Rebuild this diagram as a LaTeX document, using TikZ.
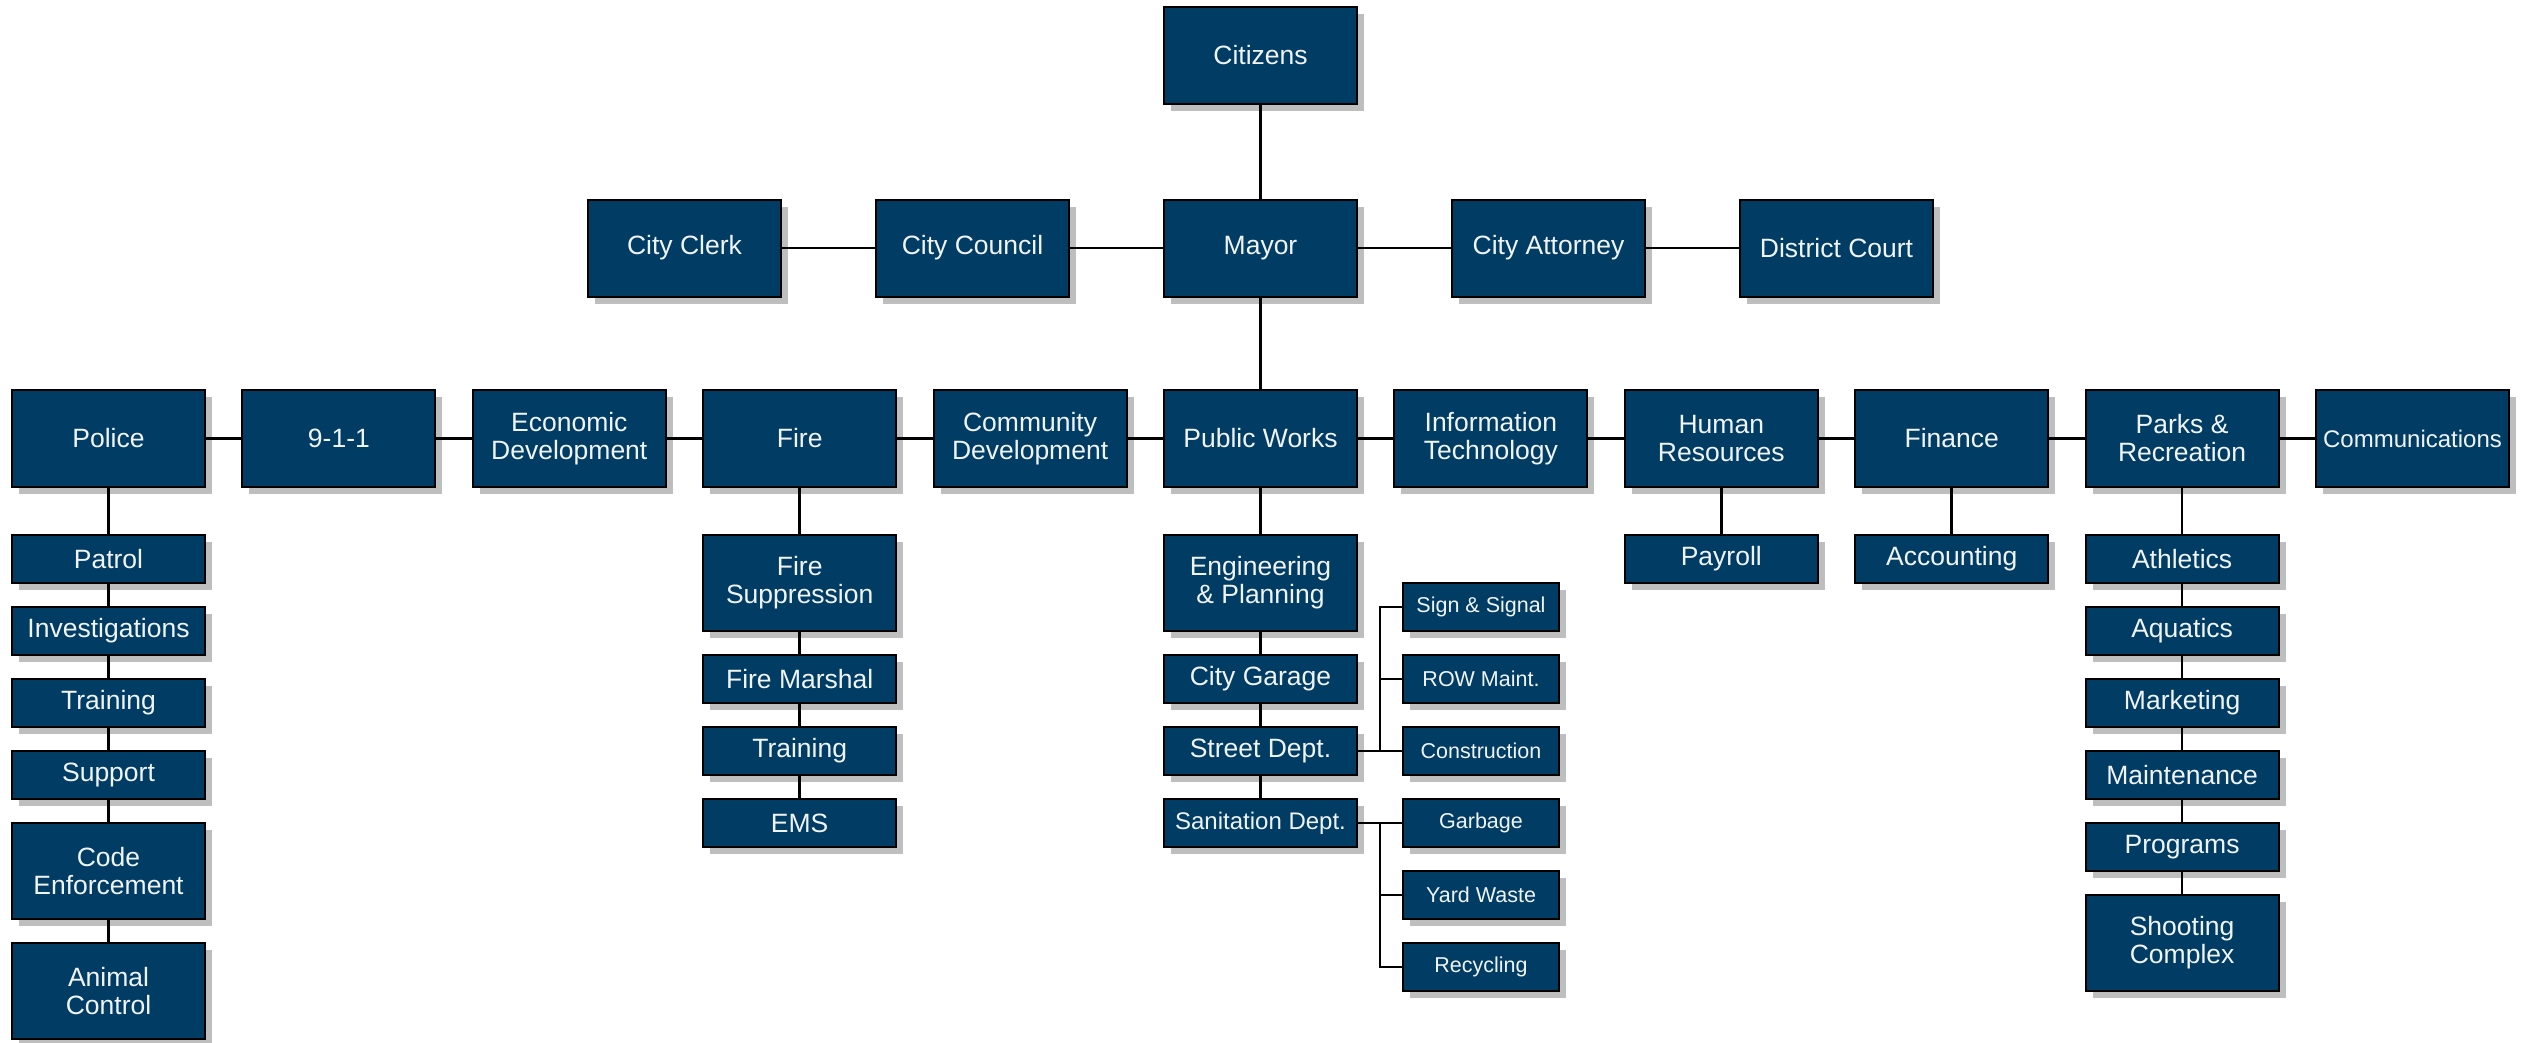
\documentclass[tikz,border=0pt]{standalone}
\usepackage{fontspec}
\setmainfont{Liberation Sans}
\usetikzlibrary{shadows}
\definecolor{navy}{RGB}{0,60,100}
\definecolor{shadowgray}{RGB}{190,190,190}
\definecolor{txt}{RGB}{240,244,247}
\tikzset{
  box/.style={draw=black, line width=2pt, fill=navy, text=txt,
    minimum width=193pt, minimum height=97pt, inner sep=2pt, align=center,
    font=\fontsize{26.5}{28}\selectfont,
    drop shadow={shadow xshift=7pt, shadow yshift=-7pt, fill=shadowgray, opacity=1}},
  sbox/.style={box, minimum height=48pt},
  tbox/.style={box, minimum height=96pt},
  rbox/.style={box, minimum width=156pt, minimum height=48pt, font=\fontsize{21.5}{24}\selectfont},
  link/.style={draw=black, line width=2.5pt}
}
\begin{document}
\begin{tikzpicture}[x=1pt,y=-1pt]
\fill[white] (0,0) rectangle (2527,1042);
\useasboundingbox (0,0) rectangle (2527,1042);
% row 1 and 2
\node[box] (cit) at (1260.5,55) {Citizens};
\node[box] (clerk) at (684.5,248) {City Clerk};
\node[box] (council) at (972.5,248) {City Council};
\node[box] (mayor) at (1260.5,248) {Mayor};
\node[box] (atty) at (1548.5,248) {City Attorney};
\node[box] (court) at (1836.5,248) {District Court};
% row 3
\node[box] (police) at (108.5,438.5) {Police};
\node[box] (nine) at (338.9,438.5) {9-1-1};
\node[box] (econ) at (569.3,438.5) {Economic\\Development};
\node[box] (fire) at (799.7,438.5) {Fire};
\node[box] (comm) at (1030.1,438.5) {Community\\Development};
\node[box] (pw) at (1260.5,438.5) {Public Works};
\node[box] (it) at (1490.9,438.5) {Information\\Technology};
\node[box] (hr) at (1721.3,438.5) {Human\\Resources};
\node[box] (fin) at (1951.7,438.5) {Finance};
\node[box] (parks) at (2182.1,438.5) {Parks \&\\Recreation};
\node[box, font=\fontsize{24}{27}\selectfont] (comms) at (2412.5,438.5) {Communications};
% police
\node[sbox] (patrol) at (108.5,559) {Patrol};
\node[sbox] (inv) at (108.5,631) {Investigations};
\node[sbox] (ptrain) at (108.5,703) {Training};
\node[sbox] (support) at (108.5,775) {Support};
\node[tbox] (code) at (108.5,871) {Code\\Enforcement};
\node[tbox] (animal) at (108.5,991) {Animal\\Control};
% fire
\node[tbox] (supp) at (799.7,583) {Fire\\Suppression};
\node[sbox] (marsh) at (799.7,679) {Fire Marshal};
\node[sbox] (ftrain) at (799.7,751) {Training};
\node[sbox] (ems) at (799.7,823) {EMS};
% public works
\node[tbox] (eng) at (1260.5,583) {Engineering\\\& Planning};
\node[sbox] (garage) at (1260.5,679) {City Garage};
\node[sbox] (street) at (1260.5,751) {Street Dept.};
\node[sbox, font=\fontsize{24}{27}\selectfont] (san) at (1260.5,823) {Sanitation Dept.};
\node[rbox] (sign) at (1481,607) {Sign \& Signal};
\node[rbox] (row) at (1481,679) {ROW Maint.};
\node[rbox] (cons) at (1481,751) {Construction};
\node[rbox] (garb) at (1481,823) {Garbage};
\node[rbox] (yard) at (1481,895) {Yard Waste};
\node[rbox] (recy) at (1481,967) {Recycling};
% hr, finance
\node[sbox] (pay) at (1721.3,559) {Payroll};
\node[sbox] (acct) at (1951.7,559) {Accounting};
% parks
\node[sbox] (ath) at (2182.1,559) {Athletics};
\node[sbox] (aqua) at (2182.1,631) {Aquatics};
\node[sbox] (mkt) at (2182.1,703) {Marketing};
\node[sbox] (maint) at (2182.1,775) {Maintenance};
\node[sbox] (prog) at (2182.1,847) {Programs};
\node[tbox] (shoot) at (2182.1,943) {Shooting\\Complex};
% junctions
\coordinate (sj) at (1380,751);
\coordinate (tj) at (1380,823);
% connectors
\draw[link] (cit) -- (mayor);
\draw[link] (mayor) -- (pw);
\draw[link] (clerk) -- (council);
\draw[link] (council) -- (mayor);
\draw[link] (mayor) -- (atty);
\draw[link] (atty) -- (court);
\draw[link] (police) -- (nine);
\draw[link] (nine) -- (econ);
\draw[link] (econ) -- (fire);
\draw[link] (fire) -- (comm);
\draw[link] (comm) -- (pw);
\draw[link] (pw) -- (it);
\draw[link] (it) -- (hr);
\draw[link] (hr) -- (fin);
\draw[link] (fin) -- (parks);
\draw[link] (parks) -- (comms);
\draw[link] (police) -- (patrol);
\draw[link] (patrol) -- (inv);
\draw[link] (inv) -- (ptrain);
\draw[link] (ptrain) -- (support);
\draw[link] (support) -- (code);
\draw[link] (code) -- (animal);
\draw[link] (fire) -- (supp);
\draw[link] (supp) -- (marsh);
\draw[link] (marsh) -- (ftrain);
\draw[link] (ftrain) -- (ems);
\draw[link] (pw) -- (eng);
\draw[link] (eng) -- (garage);
\draw[link] (garage) -- (street);
\draw[link] (street) -- (san);
\draw[link] (street.east) -- (sj);
\draw[link] (sj) -- (cons.west);
\draw[link] (sj) |- (sign.west);
\draw[link] (sj) |- (row.west);
\draw[link] (san.east) -- (tj);
\draw[link] (tj) -- (garb.west);
\draw[link] (tj) |- (yard.west);
\draw[link] (tj) |- (recy.west);
\draw[link] (hr) -- (pay);
\draw[link] (fin) -- (acct);
\draw[link] (parks) -- (ath);
\draw[link] (ath) -- (aqua);
\draw[link] (aqua) -- (mkt);
\draw[link] (mkt) -- (maint);
\draw[link] (maint) -- (prog);
\draw[link] (prog) -- (shoot);
\end{tikzpicture}
\end{document}
